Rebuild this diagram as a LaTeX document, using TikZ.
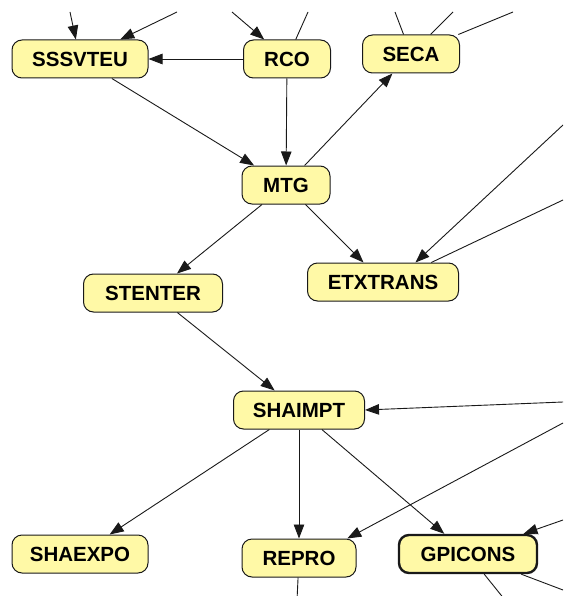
\documentclass[tikz,border=0pt]{standalone}
\usepackage{fontspec}
\setmainfont{Liberation Sans}
\usetikzlibrary{arrows.meta,calc}
\definecolor{boxfill}{RGB}{255,249,166}
\definecolor{edgecol}{RGB}{25,25,25}
\tikzset{
  box/.style={draw=edgecol, line width=1pt, fill=boxfill, rounded corners=10pt,
    minimum height=38pt, inner sep=0pt, font=\fontsize{20.5}{23}\selectfont\bfseries},
  thickbox/.style={box, line width=2.4pt},
  conn/.style={draw=edgecol, line width=0.9pt},
  arr/.style={conn, -{Triangle[length=14pt,width=10.5pt]}}
}
\begin{document}
\begin{tikzpicture}[x=1pt,y=-1pt]
\useasboundingbox (0,0) rectangle (563,596);
\clip (0,0) rectangle (563,596);
% nodes
\node[box, minimum width=136pt] (sssvteu) at (80,59) {SSSVTEU};
\node[box, minimum width=87pt] (rco) at (287,59) {RCO};
\node[box, minimum width=97pt] (seca) at (411,54) {SECA};
\node[box, minimum width=88pt] (mtg) at (286,185) {MTG};
\node[box, minimum width=139pt] (stenter) at (153,293) {STENTER};
\node[box, minimum width=151pt] (etx) at (383,282) {ETXTRANS};
\node[box, minimum width=131pt] (shaimpt) at (299,410) {SHAIMPT};
\node[box, minimum width=136pt] (shaexpo) at (80,554) {SHAEXPO};
\node[box, minimum width=114pt] (repro) at (299,558) {REPRO};
\node[thickbox, minimum width=138pt] (gpicons) at (468,554) {GPICONS};
% outside coordinates
\coordinate (t1) at (70,12);
\coordinate (t2) at (177,12);
\coordinate (t3) at (232,12);
\coordinate (t4) at (308,12);
\coordinate (t5) at (395,12);
\coordinate (t6) at (453,12);
\coordinate (t7) at (513,12);
\coordinate (r1) at (563,125);
\coordinate (r2) at (563,200);
\coordinate (r3) at (563,402);
\coordinate (r4) at (563,423);
\coordinate (r5) at (563,520);
\coordinate (b1) at (297,600);
\coordinate (b2) at (505,600);
\coordinate (r6) at (563,590);
% edges
\draw[arr] (t1) -- (sssvteu);
\draw[arr] (t2) -- (sssvteu);
\draw[arr] (t3) -- (rco);
\draw[conn] (rco) -- (t4);
\draw[conn] (seca) -- (t5);
\draw[conn] (seca) -- (t6);
\draw[conn] (seca) -- (t7);
\draw[arr] (rco) -- (sssvteu);
\draw[arr] (sssvteu) -- (mtg);
\draw[arr] (rco) -- (mtg);
\draw[arr] (mtg) -- (seca);
\draw[arr] (mtg) -- (stenter);
\draw[arr] (mtg) -- (etx);
\draw[arr] (r1) -- (etx.31);
\draw[conn] (r2) -- (etx.22);
\draw[arr] (stenter) -- (shaimpt);
\draw[arr] (r3) -- (shaimpt.east);
\draw[arr] (shaimpt) -- (shaexpo);
\draw[arr] (shaimpt) -- (repro);
\draw[arr] (shaimpt) -- (gpicons);
\draw[arr] (r4) -- (repro.22);
\draw[arr] (r5) -- (gpicons.20);
\draw[conn] (repro) -- (b1);
\draw[conn] (gpicons) -- (b2);
\draw[conn] (gpicons) -- (r6);
\end{tikzpicture}
\end{document}
